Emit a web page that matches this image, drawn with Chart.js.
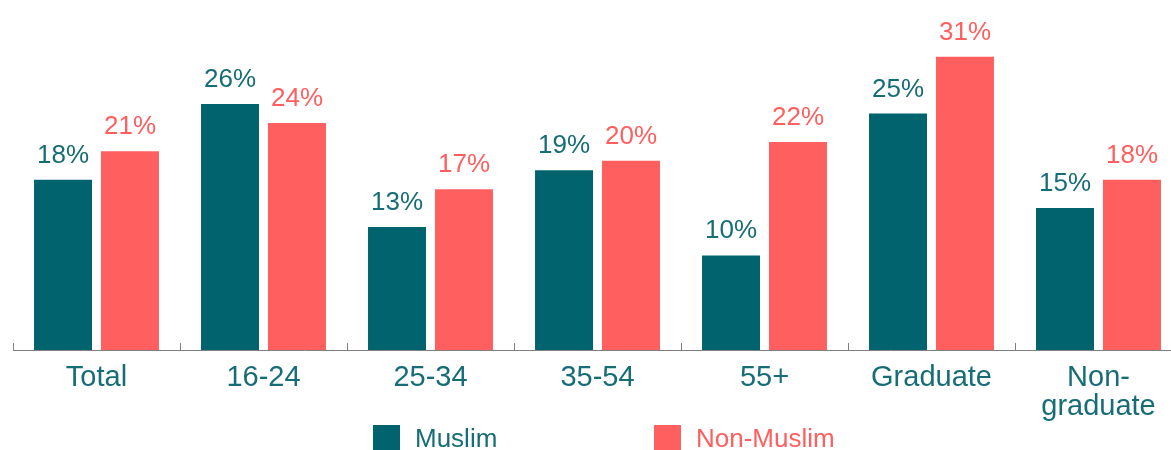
<!DOCTYPE html>
<html lang="en">
<head>
<meta charset="UTF-8" />
<title>Muslim vs Non-Muslim</title>
<script src="https://cdn.jsdelivr.net/npm/chart.js"></script>
<style>
    * {
        font-family: 'Liberation Sans', Arial, sans-serif;
        box-sizing: border-box;
    }

    body {
        margin: 0;
        background: #ffffff;
        width: 1171px;
        height: 450px;
        overflow: hidden;
        position: relative;
    }

    .chart-wrap {
        position: absolute;
        left: 0;
        top: 0;
        width: 1190px;
        height: 450px;
    }

    .legend-box {
        position: absolute;
        top: 425px;
        width: 27px;
        height: 25px;
    }

    .legend-text {
        position: absolute;
        top: 425px;
        font-size: 26px;
        line-height: 26px;
        white-space: nowrap;
    }
</style>
</head>
<body>
    <div class="chart-wrap">
        <canvas id="barChart"></canvas>
    </div>

    <div class="legend-box" style="left:373px; background:#00636d;"></div>
    <div class="legend-text" style="left:415px; color:#176d76;">Muslim</div>
    <div class="legend-box" style="left:654px; background:#ff5f5f;"></div>
    <div class="legend-text" style="left:696px; color:#ff5f5f;">Non-Muslim</div>

<script>
    const categories = ['Total', '16-24', '25-34', '35-54', '55+', 'Graduate', ['Non-', 'graduate']];
    const muslim = [18, 26, 13, 19, 10, 25, 15];
    const nonMuslim = [21, 24, 17, 20, 22, 31, 18];

    const tealBar = '#00636d';
    const redBar = '#ff5f5f';
    const tealText = '#176d76';

    // value labels above each bar
    const valueLabels = {
        id: 'valueLabels',
        afterDatasetsDraw(chart) {
            const ctx = chart.ctx;
            ctx.save();
            ctx.font = '26px "Liberation Sans", Arial, sans-serif';
            ctx.textAlign = 'center';
            ctx.textBaseline = 'alphabetic';
            chart.data.datasets.forEach((ds, di) => {
                ctx.fillStyle = di === 0 ? tealText : redBar;
                chart.getDatasetMeta(di).data.forEach((bar, i) => {
                    ctx.fillText(ds.data[i] + '%', bar.x, bar.y - 17);
                });
            });
            ctx.restore();
        }
    };

    // little upward ticks at category boundaries
    const boundaryTicks = {
        id: 'boundaryTicks',
        afterDraw(chart) {
            const x = chart.scales.x;
            const ctx = chart.ctx;
            const step = x.getPixelForValue(1) - x.getPixelForValue(0);
            ctx.save();
            ctx.strokeStyle = '#808080';
            ctx.lineWidth = 1;
            for (let i = 0; i < categories.length; i++) {
                const px = Math.round(x.getPixelForValue(i) - step / 2) + 0.5;
                ctx.beginPath();
                ctx.moveTo(px, x.top - 7);
                ctx.lineTo(px, x.top);
                ctx.stroke();
            }
            ctx.restore();
        }
    };

    new Chart(document.getElementById('barChart'), {
        type: 'bar',
        data: {
            labels: categories,
            datasets: [{
                label: 'Muslim',
                data: muslim,
                backgroundColor: tealBar
            }, {
                label: 'Non-Muslim',
                data: nonMuslim,
                backgroundColor: redBar
            }]
        },
        options: {
            responsive: true,
            maintainAspectRatio: false,
            animation: false,
            categoryPercentage: 0.802,
            barPercentage: 0.866,
            layout: {
                padding: { left: 13, right: 8, top: 0, bottom: 0 }
            },
            plugins: {
                legend: { display: false },
                tooltip: { enabled: false }
            },
            scales: {
                x: {
                    grid: { display: false, drawTicks: false },
                    border: { display: true, color: '#808080', width: 1 },
                    ticks: {
                        color: tealText,
                        padding: 13,
                        font: { size: 29, family: '"Liberation Sans", Arial, sans-serif', lineHeight: 1.02 },
                        maxRotation: 0,
                        autoSkip: false
                    },
                    afterFit(scale) {
                        scale.height = 100;
                    }
                },
                y: {
                    display: false,
                    min: 0,
                    max: 37
                }
            }
        },
        plugins: [valueLabels, boundaryTicks]
    });
</script>
</body>
</html>
